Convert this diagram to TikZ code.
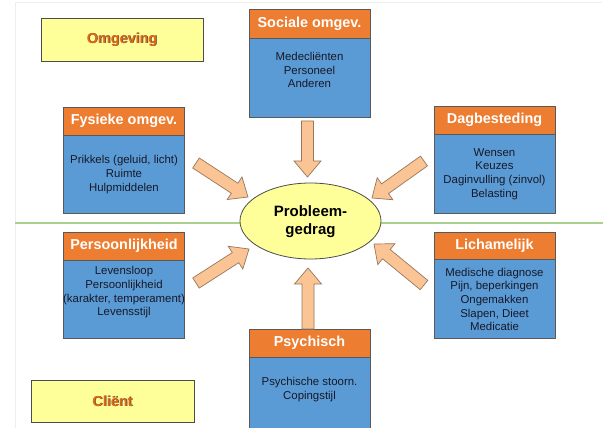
\documentclass[tikz,border=0pt]{standalone}
\usepackage{fontspec}
\setmainfont{Liberation Sans}
\usetikzlibrary{calc,shapes.geometric}
\definecolor{hdr}{RGB}{237,125,49}
\definecolor{bodyblue}{RGB}{91,155,213}
\definecolor{lyellow}{RGB}{255,255,153}
\definecolor{arrfill}{RGB}{251,196,148}
\definecolor{arrdraw}{RGB}{150,120,95}
\definecolor{gline}{RGB}{169,209,142}
\definecolor{btext}{RGB}{22,24,40}
\definecolor{omtext}{RGB}{226,104,22}
\definecolor{frame}{RGB}{238,238,238}
\newcommand{\blkarrow}[2]{%
  \draw[blockarrow] ($(#1)!6pt!90:(#2)$) -- ($(#2)!16pt!(#1)!6pt!-90:(#1)$) -- ($(#2)!16pt!(#1)!13.5pt!-90:(#1)$) -- (#2) -- ($(#2)!16pt!(#1)!13.5pt!90:(#1)$) -- ($(#2)!16pt!(#1)!6pt!90:(#1)$) -- ($(#1)!6pt!-90:(#2)$) -- cycle;}
\tikzset{
  hdrbox/.style={draw=gray!70!black, line width=0.7pt, fill=hdr, text=white, font=\fontsize{14.4}{16}\selectfont\bfseries, minimum width=121pt, inner sep=0pt, anchor=center},
  bodybox/.style={draw=gray!70!black, line width=0.7pt, fill=bodyblue, minimum width=121pt, inner sep=0pt, anchor=center},
  bodytext/.style={text=btext, font=\fontsize{11.4}{13.7}\selectfont, align=center, inner sep=0pt, anchor=center},
  ybox/.style={draw=gray!60!black, line width=0.7pt, fill=lyellow, inner sep=0pt, anchor=center},
  ytext/.style={font=\fontsize{14.4}{16}\selectfont\bfseries, inner sep=0pt, anchor=center},
  blockarrow/.style={fill=arrfill, draw=arrdraw, line width=0.7pt, line join=miter},
}
\begin{document}
\begin{tikzpicture}[x=1pt,y=-1pt]
\useasboundingbox (0,0) rectangle (606,428);
\fill[white] (0,0) rectangle (606,428);
% faint frame
\draw[frame, line width=1pt] (15,428) -- (15,3) -- (602,3);
% green divider
\draw[gline, line width=1.3pt] (15,223) -- (603,223);

% yellow label boxes
\node[ybox, minimum width=162pt, minimum height=43pt] (omg) at (122,39.5) {};
\node[ytext, text=black!70] at (122.7,40.2) {Omgeving};
\node[ytext, text=omtext] (omgt) at (122,39.5) {Omgeving};
\node[ybox, minimum width=163pt, minimum height=42pt] (cli) at (112.5,401) {};
\node[ytext, text=black!70] at (113.2,401.7) {Cliënt};
\node[ytext, text=omtext] (clit) at (112.5,401) {Cliënt};

% Fysieke omgev.
\node[hdrbox, minimum height=28pt] (fysh) at (124,121) {Fysieke omgev.};
\node[bodybox, minimum height=78pt] (fysb) at (124,174) {};
\node[bodytext] (fyst) at (124,174.5) {Prikkels (geluid, licht)\\Ruimte\\Hulpmiddelen};

% Sociale omgev.
\node[hdrbox, minimum height=29pt] (soch) at (309.5,23.5) {Sociale omgev.};
\node[bodybox, minimum height=79pt] (socb) at (309.5,77.5) {};
\node[bodytext] (soct) at (309.5,70) {Medecliënten\\Personeel\\Anderen};

% Dagbesteding
\node[hdrbox, minimum height=28pt] (dagh) at (494.5,120) {Dagbesteding};
\node[bodybox, minimum height=79pt] (dagb) at (494.5,173.5) {};
\node[bodytext] (dagt) at (494.5,174) {Wensen\\Keuzes\\Daginvulling (zinvol)\\Belasting};

% Persoonlijkheid
\node[hdrbox, minimum height=28pt] (perh) at (124,246) {Persoonlijkheid};
\node[bodybox, minimum height=78pt] (perb) at (124,299) {};
\node[bodytext] (pert) at (124,292.5) {Levensloop\\Persoonlijkheid\\(karakter, temperament)\\Levensstijl};

% Lichamelijk
\node[hdrbox, minimum height=27pt] (lich) at (494.5,245.5) {Lichamelijk};
\node[bodybox, minimum height=79pt] (licb) at (494.5,298.5) {};
\node[bodytext] (lict) at (494.5,299.5) {Medische diagnose\\Pijn, beperkingen\\Ongemakken\\Slapen, Dieet\\Medicatie};

% Psychisch
\node[hdrbox, minimum height=28pt] (psyh) at (309.5,343) {Psychisch};
\node[bodybox, minimum height=76pt] (psyb) at (309.5,395) {};
\node[bodytext] (psyt) at (309.5,389.5) {Psychische stoorn.\\Copingstijl};

% central ellipse
\node[ellipse, draw=gray!60!black, line width=0.8pt, fill=lyellow, minimum width=141pt, minimum height=76pt, inner sep=0pt] (pg) at (310.5,221) {};
\node[font=\fontsize{15}{18}\selectfont\bfseries, align=center, inner sep=0pt, text=black] (pgt) at (310.5,222) {Probleem-\\gedrag};

% arrow endpoints
\coordinate (a1s) at (307.5,121); \coordinate (a1e) at (307.5,177);
\coordinate (a2s) at (308,329);   \coordinate (a2e) at (308,268);
\coordinate (a3s) at (196,163);   \coordinate (a3e) at (248,197);
\coordinate (a4s) at (424,161);   \coordinate (a4e) at (372,198);
\coordinate (a5s) at (196,283);   \coordinate (a5e) at (249,249);
\coordinate (a6s) at (424,285);   \coordinate (a6e) at (374,244);
\blkarrow{a1s}{a1e}
\blkarrow{a2s}{a2e}
\blkarrow{a3s}{a3e}
\blkarrow{a4s}{a4e}
\blkarrow{a5s}{a5e}
\blkarrow{a6s}{a6e}
\end{tikzpicture}
\end{document}
